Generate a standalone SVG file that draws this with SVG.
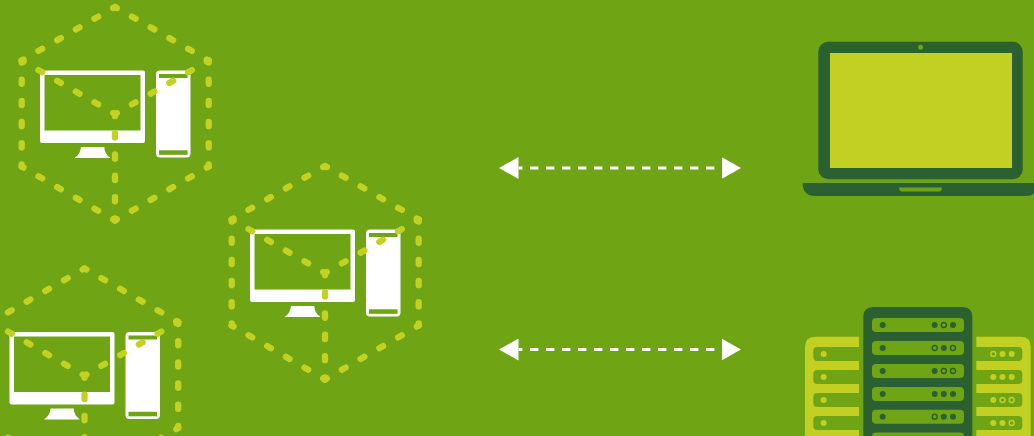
<svg xmlns="http://www.w3.org/2000/svg" width="1034" height="436" viewBox="0 0 1034 436">
<style>
.hx{fill:none;stroke:#c3d122;stroke-width:6.3;stroke-linecap:round;stroke-dasharray:2 8;stroke-dashoffset:1}
.w{fill:#fff}.bg{fill:#6fa414}.dk{fill:#2b6030}.yl{fill:#c1d022}
.fd{fill:#2b6030}.od{fill:none;stroke:#2b6030;stroke-width:1.4}
.fy{fill:#c1d022}.oy{fill:none;stroke:#c1d022;stroke-width:1.4}
.ar{fill:none;stroke:#fff;stroke-width:3;stroke-dasharray:8.4 7.6;stroke-dashoffset:4.5}
</style>
<defs>
<marker id="as" markerUnits="userSpaceOnUse" markerWidth="20" markerHeight="22" refX="0" refY="11" orient="auto-start-reverse"><path d="M0 0L19.5 11L0 22Z" fill="#fff"/></marker>
<g id="pc">
<path class="w" fill-rule="evenodd" d="M42 70.5H143Q145 70.5 145 72.5V141Q145 143 143 143H42Q40 143 40 141V72.5Q40 70.5 42 70.5ZM44.5 75V130.5H140.5V75Z"/>
<path class="w" d="M81 147H104.3Q104.5 154 110 157.5V158H75V157.5Q80.5 154 81 147Z"/>
<rect class="w" x="156" y="70.5" width="34.5" height="87" rx="4"/>
<rect class="bg" x="159" y="74" width="28.5" height="4"/>
<rect class="bg" x="159" y="150.3" width="28.5" height="4.5"/>
<path class="hx" pathLength="50" d="M115 7L208.7 60.5"/>
<path class="hx" pathLength="50" d="M208.7 60.5V166.5"/>
<path class="hx" pathLength="50" d="M208.7 166.5L115 220.5"/>
<path class="hx" pathLength="50" d="M115 220.5L21.7 166.5"/>
<path class="hx" pathLength="50" d="M21.7 166.5V60.5"/>
<path class="hx" pathLength="50" d="M21.7 60.5L115 7"/>
<path class="hx" pathLength="50" d="M115 114L21.7 60.5"/>
<path class="hx" pathLength="50" d="M115 114L208.7 60.5"/>
<path class="hx" pathLength="50" d="M115 114V220.5"/>
</g>
</defs>
<rect class="bg" width="1034" height="436"/>
<g id="computer-cluster-1"><use href="#pc"/></g>
<g id="computer-cluster-2"><use href="#pc" x="210" y="159"/></g>
<g id="computer-cluster-3"><use href="#pc" x="-30.5" y="261.5"/></g>
<g id="connectors">
<path class="ar" d="M518.5 168H721.5" marker-start="url(#as)" marker-end="url(#as)"/>
<path class="ar" d="M518.5 349.5H721.5" marker-start="url(#as)" marker-end="url(#as)"/>
</g>
<g id="laptop">
<rect class="dk" x="818.3" y="41.7" width="204.4" height="137.6" rx="10"/>
<rect class="yl" x="830" y="53" width="182" height="115"/>
<circle class="bg" cx="920.5" cy="47.3" r="2.5"/>
<path class="dk" d="M802.5 183H1038.5Q1038 196 1026 196H815Q803 196 802.5 183Z"/>
<path class="bg" d="M899 187.5H942Q942 191.5 939 191.5H902Q899 191.5 899 187.5Z"/>
</g>
<g id="server-left">
<path class="yl" d="M859 336.7H815Q805 336.7 805 346.7V436H859Z"/>
<rect class="bg" x="813.3" y="347" width="50" height="14" rx="4"/>
<rect class="bg" x="813.3" y="370" width="50" height="14" rx="4"/>
<rect class="bg" x="813.3" y="393" width="50" height="14" rx="4"/>
<rect class="bg" x="813.3" y="416" width="50" height="14" rx="4"/>
<circle class="fy" cx="823.7" cy="354" r="3"/><circle class="fy" cx="823.7" cy="377" r="3"/><circle class="fy" cx="823.7" cy="400" r="3"/><circle class="fy" cx="823.7" cy="423" r="3"/>
</g>
<g id="server-right">
<path class="yl" d="M976.3 336.7H1021Q1030.7 336.7 1030.7 346.7V436H976.3Z"/>
<rect class="bg" x="972" y="347" width="50.3" height="14" rx="4"/>
<rect class="bg" x="972" y="370" width="50.3" height="14" rx="4"/>
<rect class="bg" x="972" y="393" width="50.3" height="14" rx="4"/>
<rect class="bg" x="972" y="416" width="50.3" height="14" rx="4"/>
<circle class="oy" cx="993.3" cy="354" r="2.5"/><circle class="fy" cx="1002.5" cy="354" r="3"/><circle class="fy" cx="1011.7" cy="354" r="3"/>
<circle class="fy" cx="993.3" cy="377" r="3"/><circle class="fy" cx="1002.5" cy="377" r="3"/><circle class="fy" cx="1011.7" cy="377" r="3"/>
<circle class="fy" cx="993.3" cy="400" r="3"/><circle class="oy" cx="1002.5" cy="400" r="2.5"/><circle class="oy" cx="1011.7" cy="400" r="2.5"/>
<circle class="fy" cx="993.3" cy="423" r="3"/><circle class="fy" cx="1002.5" cy="423" r="3"/><circle class="oy" cx="1011.7" cy="423" r="2.5"/>
</g>
<g id="server-center">
<path class="dk" d="M863.3 436V317Q863.3 307 873.3 307H962.3Q972.3 307 972.3 317V436Z"/>
<rect class="bg" x="872" y="318" width="92" height="14" rx="4"/>
<rect class="bg" x="872" y="341" width="92" height="14" rx="4"/>
<rect class="bg" x="872" y="364" width="92" height="14" rx="4"/>
<rect class="bg" x="872" y="387" width="92" height="14" rx="4"/>
<rect class="bg" x="872" y="409.7" width="92" height="14" rx="4"/>
<rect class="bg" x="872" y="432.6" width="92" height="14" rx="4"/>
<circle class="fd" cx="882.7" cy="325" r="3"/><circle class="fd" cx="934.7" cy="325" r="3"/><circle class="od" cx="943.8" cy="325" r="2.5"/><circle class="fd" cx="953" cy="325" r="3"/>
<circle class="fd" cx="882.7" cy="348" r="3"/><circle class="od" cx="934.7" cy="348" r="2.5"/><circle class="fd" cx="943.8" cy="348" r="3"/><circle class="od" cx="953" cy="348" r="2.5"/>
<circle class="fd" cx="882.7" cy="371" r="3"/><circle class="fd" cx="934.7" cy="371" r="3"/><circle class="od" cx="943.8" cy="371" r="2.5"/><circle class="od" cx="953" cy="371" r="2.5"/>
<circle class="fd" cx="882.7" cy="394" r="3"/><circle class="fd" cx="934.7" cy="394" r="3"/><circle class="fd" cx="943.8" cy="394" r="3"/><circle class="fd" cx="953" cy="394" r="3"/>
<circle class="fd" cx="882.7" cy="416.7" r="3"/><circle class="od" cx="934.7" cy="416.7" r="2.5"/><circle class="fd" cx="943.8" cy="416.7" r="3"/><circle class="fd" cx="953" cy="416.7" r="3"/>
</g>
</svg>
